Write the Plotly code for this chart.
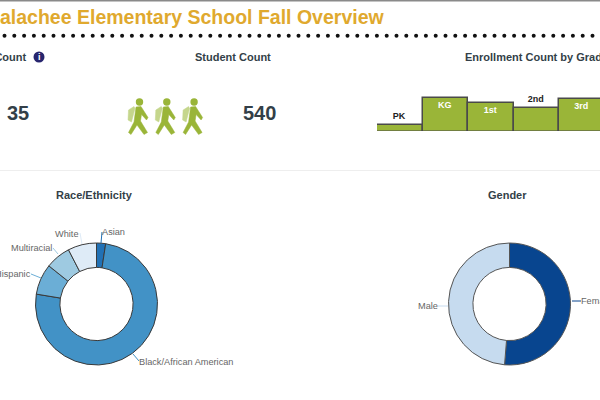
import plotly.graph_objects as go

grades = ["PK", "KG", "1st", "2nd", "3rd"]
grade_counts = [20, 100, 84, 70, 96]
grade_text_pos = ["outside", "inside", "inside", "outside", "inside"]

race_labels = ["Asian", "Black/African American", "Hispanic", "Multiracial", "White"]
race_counts = [13, 406, 44, 36, 41]
race_colors = ["#2171b5", "#4292c6", "#6baed6", "#9ecae1", "#deebf7"]

gender_labels = ["Female", "Male"]
gender_counts = [277, 263]
gender_colors = ["#08458f", "#c6dbef"]

GOLD = "#e0a92e"
DARK = "#333f48"
GREEN = "#9ab538"
FONT = "Liberation Sans"


def px(x):
    return x / 600


def py(y):
    return 1 - y / 400


def poly(points, color):
    path = "M " + " L ".join(f"{px(x)} {py(y)}" for x, y in points) + " Z"
    return dict(type="path", xref="paper", yref="paper", path=path, line=dict(color=color, width=0.5),
                fillcolor=color, layer="above")


def line(x0, y0, x1, y1, color, width=1):
    return dict(type="line", xref="paper", yref="paper", x0=px(x0), y0=py(y0), x1=px(x1), y1=py(y1),
                line=dict(color=color, width=width))


def circle(cx, cy, r, color):
    return dict(type="circle", xref="paper", yref="paper", x0=px(cx - r), x1=px(cx + r), y0=py(cy - r), y1=py(cy + r),
                fillcolor=color, line=dict(width=0))


def walker(x):
    # x is the left edge of the little figure
    out = [circle(x + 11.5, 102, 3.7, GREEN)]
    out.append(poly([(x + 0.5, 110), (x + 6, 106.5), (x + 7, 108.5), (x + 3.5, 122), (x, 120)], "#c5d68c"))
    out.append(poly([(x + 8, 107), (x + 13, 106.5), (x + 20, 117.5), (x + 18.5, 120), (x + 13.5, 114.5), (x + 12.5, 121),
                     (x + 19.5, 132.5), (x + 16, 134.5), (x + 9, 125), (x + 3, 134.5), (x + 0.5, 132.5), (x + 6, 122)],
                    GREEN))
    return out


def text(x, y, s, size=9.2, color="#666666", bold=False, anchor="center"):
    shift = {"left": -2, "right": 2, "center": 0}[anchor]
    return dict(xref="paper", yref="paper", x=px(x), y=py(y), text=f"<b>{s}</b>" if bold else s, showarrow=False,
                xanchor=anchor, yanchor="middle", xshift=shift, font=dict(family=FONT, size=size, color=color))


fig = go.Figure()

fig.add_trace(go.Bar(
    x=grades,
    y=grade_counts,
    text=grades,
    textposition=grade_text_pos,
    insidetextanchor="end",
    textangle=0,
    textfont=dict(family=FONT, size=9, weight="bold"),
    insidetextfont=dict(color="white"),
    outsidetextfont=dict(color="#222222"),
    marker=dict(color=GREEN, line=dict(color="#4a4a4a", width=1.5)),
    width=1,
    cliponaxis=False,
    hoverinfo="skip"
))

fig.add_trace(go.Pie(
    labels=race_labels,
    values=race_counts,
    hole=0.6,
    sort=False,
    direction="clockwise",
    rotation=0,
    textinfo="none",
    marker=dict(colors=race_colors, line=dict(color="#3a3a3a", width=1)),
    domain=dict(x=[px(35), px(158)], y=[py(365), py(243)])
))

fig.add_trace(go.Pie(
    labels=gender_labels,
    values=gender_counts,
    hole=0.6,
    sort=False,
    direction="clockwise",
    rotation=0,
    textinfo="none",
    marker=dict(colors=gender_colors, line=dict(color="#555555", width=1)),
    domain=dict(x=[px(448), px(571)], y=[py(365), py(243)])
))

shapes = [
    line(0, 0.5, 600, 0.5, "#8a8a8a", 2),
    line(0, 170.5, 600, 170.5, "#eeeeee", 1),
    # the bars have no dark edge along the baseline
    line(370, 132.5, 600, 132.5, "white", 3),
    circle(39, 57, 5.5, "#27256e"),
    # leader lines of the pie labels
    line(102, 232, 101, 243, "#2171b5"),
    line(80, 233, 82, 244, "#deebf7"),
    line(53, 248, 58, 254, "#9ecae1"),
    line(31, 274, 41, 278, "#6baed6"),
    line(139, 361, 133, 354, "#4292c6"),
    line(438, 306, 448, 306, "#c6dbef"),
    line(572, 301, 581, 301, "#08458f"),
]
for i in range(62):
    shapes.append(circle(4.5 + i * 9.8, 35.7, 2, "#111111"))
for x0 in [128, 155.3, 182.6]:
    shapes.extend(walker(x0))

annotations = [
    text(385, 16.5, "Apalachee Elementary School Fall Overview", size=19.5, color=GOLD, bold=True, anchor="right"),
    text(27, 57, "Teacher Count", size=11, color=DARK, bold=True, anchor="right"),
    text(39, 57, "i", size=9, color="white", bold=True),
    text(233, 57, "Student Count", size=11, color=DARK, bold=True),
    text(465, 57, "Enrollment Count by Grade", size=11, color=DARK, bold=True, anchor="left"),
    text(18, 113, "35", size=20, color=DARK, bold=True),
    text(259, 113, "540", size=20, color=DARK, bold=True),
    text(94, 194.5, "Race/Ethnicity", size=11, color=DARK, bold=True),
    text(507, 194.5, "Gender", size=11, color=DARK, bold=True),
    text(102, 232, "Asian", anchor="left"),
    text(79, 233.5, "White", anchor="right"),
    text(52, 247.5, "Multiracial", anchor="right"),
    text(31, 273.5, "Hispanic", anchor="right"),
    text(139, 361.5, "Black/African American", anchor="left"),
    text(438, 306, "Male", anchor="right"),
    text(581, 300.5, "Female", anchor="left"),
]

fig.update_layout(
    width=600,
    height=400,
    margin=dict(l=0, r=0, t=0, b=0),
    paper_bgcolor="white",
    plot_bgcolor="white",
    showlegend=False,
    bargap=0,
    shapes=shapes,
    annotations=annotations,
    xaxis=dict(domain=[px(377), 1], range=[-0.5, 4.4], type="category", categoryorder="array", categoryarray=grades,
               visible=False),
    yaxis=dict(domain=[py(132), py(60)], range=[0, 208.7], visible=False)
)

fig.write_html("out.html", post_script="document.body.style.margin='0';", config=dict(displayModeBar=False))
